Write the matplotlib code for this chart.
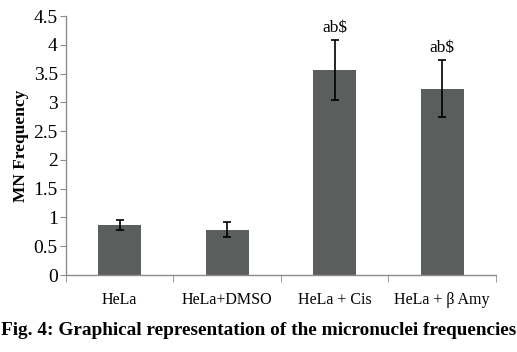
import matplotlib
matplotlib.use("Agg")
import matplotlib.pyplot as plt
import numpy as np

# valeurs
groupes = ["HeLa", "HeLa+DMSO", "HeLa + Cis", "HeLa + β Amy"]
freq_mn = [0.87, 0.79, 3.56, 3.24]
erreurs = [0.09, 0.13, 0.52, 0.50]
signif = ["", "", "ab$", "ab$"]
yticks = [0, 0.5, 1, 1.5, 2, 2.5, 3, 3.5, 4, 4.5]

plt.rcParams["font.family"] = ["Liberation Serif", "DejaVu Serif"]

fig = plt.figure(figsize=(5.17, 3.52), dpi=100)
ax = fig.add_axes([0.1277, 0.2187, 0.8313, 0.7358])

x = np.arange(len(groupes))
ax.bar(x, freq_mn, width=0.4, color="#5a5f5d", zorder=2)
ax.errorbar(x, freq_mn, yerr=erreurs, fmt="none", ecolor="black",
            elinewidth=1.2, capsize=3, capthick=1.2, zorder=3)
for xi, v, e, s in zip(x, freq_mn, erreurs, signif):
    if s:
        ax.text(xi, v + e + 0.07, s, ha="center", va="bottom", fontsize=12.5)

ax.set_xlim(-0.5, len(groupes) - 0.5)
ax.set_ylim(0, 4.5)
ax.set_yticks(yticks, [f"{t:g}" for t in yticks], fontsize=14)
ax.set_xticks(x, groupes, fontsize=11.5)
ax.set_xticks(np.arange(-0.5, len(groupes)), minor=True)
ax.tick_params(axis="x", which="major", length=0, pad=12)
ax.tick_params(axis="x", which="minor", length=5, color="#8c8c8c", direction="out")
ax.tick_params(axis="y", length=4, color="#8c8c8c", direction="out", pad=2)

for side in ["top", "right"]:
    ax.spines[side].set_visible(False)
for side in ["left", "bottom"]:
    ax.spines[side].set_color("#8c8c8c")
    ax.spines[side].set_linewidth(1.0)

ax.set_ylabel("MN Frequency", fontsize=12.5, fontweight="bold", labelpad=3)

fig.text(0.5, 0.062, "Fig. 4: Graphical representation of the micronuclei frequencies",
         ha="center", va="center", fontsize=13.9, fontweight="bold", color="black")

fig.savefig("out.png", dpi=100)
